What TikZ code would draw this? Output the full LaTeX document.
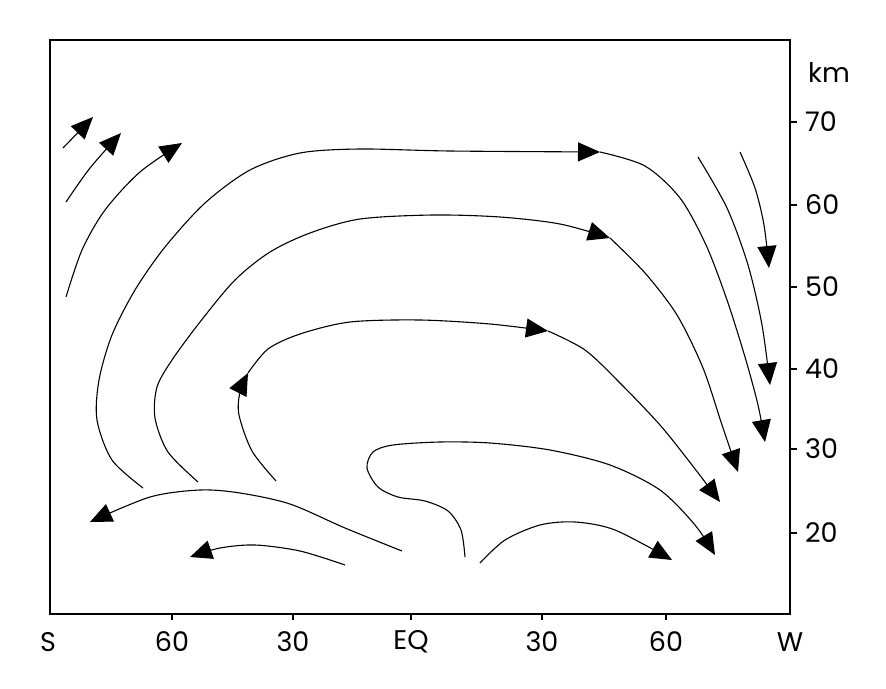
\documentclass[tikz,border=0pt]{standalone}
\usepackage{fontspec}
\setmainfont{Poppins}
\usetikzlibrary{arrows.meta}
\tikzset{
  flow/.style={line width=1.1pt, line join=round},
  arr/.style={flow, -{Triangle[length=22pt,width=19pt]}},
  frameline/.style={line width=1.8pt},
  tick/.style={line width=1.4pt},
  lab/.style={font=\fontsize{27}{27}\selectfont, inner sep=0pt},
}
\begin{document}
\begin{tikzpicture}[x=1pt,y=-1pt]
\useasboundingbox (0,0) rectangle (886,688);
% frame
\draw[frameline] (50,40) rectangle (790,614);
% right axis ticks and labels
\foreach \yy/\t in {122/70,205/60,287/50,369/40,449/30,533/20}{
  \draw[tick] (790,\yy) -- (797,\yy);
  \node[lab, anchor=west] (r\t) at (805,\yy) {\t};
}
\node[lab, anchor=center] (km) at (829,73) {km};
% bottom labels and ticks
\foreach \xx in {172,293,411,542,666}{
  \draw[tick] (\xx,614) -- (\xx,620);
}
\node[lab] (lS) at (48,642) {S};
\node[lab] (l60s) at (172,642) {60};
\node[lab] (l30s) at (293,642) {30};
\node[lab] (lEQ) at (411,642) {EQ};
\node[lab] (l30n) at (542,642) {30};
\node[lab] (l60n) at (666,642) {60};
\node[lab] (lW) at (790,642) {W};

% small arrows top-left
\draw[arr] (63,148) -- (93,117);
\draw[arr] plot[smooth] coordinates {(66,202) (90,168) (121,133)};
\draw[arr] plot[smooth] coordinates {(66,297) (82,250) (105,210) (140,172) (182,143)};

% outer loop D
\draw[arr] plot[smooth] coordinates {(143,488) (112,460) (97,420) (99,380) (112,335) (135,290) (165,247) (205,203) (250,170) (300,153) (360,149) (450,151) (600,152)};
\draw[arr] plot[smooth] coordinates {(600,152) (645,166) (680,198) (706,245) (727,300) (745,357) (758,405) (765,442)};

% loop E
\draw[arr] plot[smooth] coordinates {(198,482) (168,452) (155,418) (157,387) (172,360) (200,322) (235,280) (270,252) (310,233) (360,219) (433,215) (500,217) (560,224) (610,238)};
\draw[arr] plot[smooth] coordinates {(610,238) (645,273) (677,315) (703,368) (722,425) (738,472)};

% loop M
\draw[arr] plot[smooth] coordinates {(276,481) (252,451) (239,415) (240,392) (248,373)};
\draw[arr] plot[smooth] coordinates {(248,373) (268,349) (300,334) (350,322) (420,320) (490,324) (548,331)};
\draw[arr] plot[smooth] coordinates {(548,331) (585,350) (620,383) (660,425) (692,465) (720,502)};

% inner loop G
\draw[arr] plot[smooth] coordinates {(465,557) (461,530) (448,511) (425,501) (398,497) (378,487) (367,468) (373,452) (393,445) (440,442) (490,443) (550,450) (610,465) (660,490) (695,525) (715,555)};

% bottom right arc H
\draw[arr] plot[smooth] coordinates {(480,563) (505,540) (540,525) (575,522) (615,530) (672,560)};

% lower left arcs
\draw[arr] plot[smooth] coordinates {(402,551) (345,528) (290,504) (240,493) (200,490) (150,497) (90,522)};
\draw[arr] plot[smooth] coordinates {(345,565) (300,551) (255,545) (220,548) (190,557)};

% right-hand descending arrows
\draw[arr] plot[smooth] coordinates {(698,157) (727,208) (748,265) (762,325) (770,385)};
\draw[arr] plot[smooth] coordinates {(740,152) (755,188) (764,225) (769,268)};
\end{tikzpicture}
\end{document}
